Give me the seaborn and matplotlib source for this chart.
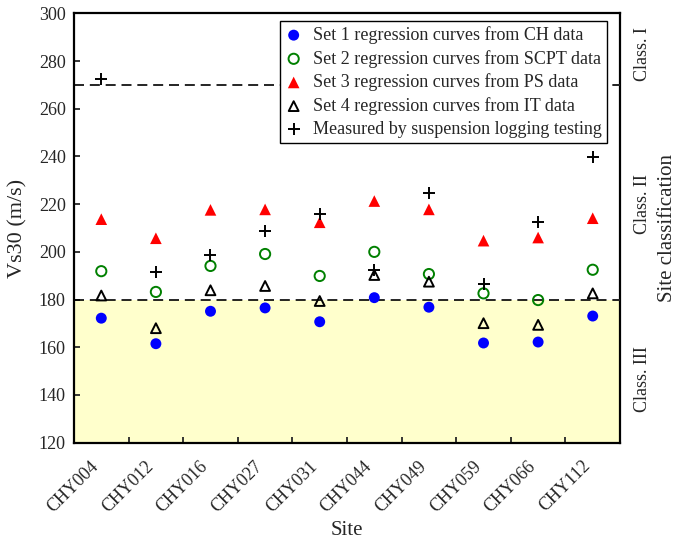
import matplotlib
matplotlib.use("Agg")
import matplotlib.pyplot as plt
import matplotlib.transforms as mtransforms
import numpy as np
import pandas as pd
import seaborn as sns

sites = ["CHY004", "CHY012", "CHY016", "CHY027", "CHY031",
         "CHY044", "CHY049", "CHY059", "CHY066", "CHY112"]
set1_ch = [172.2, 161.5, 175.1, 176.5, 170.7, 180.8, 176.8, 161.8, 162.2, 173.1]
set2_scpt = [191.9, 183.2, 194.1, 199.1, 189.9, 200.0, 190.7, 182.6, 179.8, 192.5]
set3_ps = [213.7, 205.7, 217.6, 217.8, 212.4, 221.3, 217.8, 204.7, 206.0, 214.1]
set4_it = [181.7, 168.0, 183.9, 185.7, 179.4, 190.3, 187.5, 170.1, 169.4, 182.6]
measured = [272.5, 191.6, 198.6, 208.8, 215.8, 192.4, 224.8, 186.7, 212.7, 239.6]

class_bounds = [180, 270]
class_names = ["Class. III", "Class. II", "Class. I"]
class_label_y = [146.5, 220, 283]

sns.set_style("ticks")
plt.rcParams["font.family"] = ["Liberation Serif", "DejaVu Serif"]

df = pd.DataFrame({
    "pos": np.arange(len(sites)),
    "site": sites,
    "s1": set1_ch, "s2": set2_scpt, "s3": set3_ps, "s4": set4_it, "m": measured,
})

fig = plt.figure(figsize=(6.8, 5.43), dpi=100)
ax = fig.add_axes([0.1088, 0.1847, 0.803, 0.7908])

ax.axhspan(120, class_bounds[0], color="#FFFFCC", zorder=0, lw=0)
for b in class_bounds:
    ax.axhline(b, color="black", lw=1.2, dashes=(6, 3.5), zorder=1)

ms = 62
sns.scatterplot(data=df, x="pos", y="s1", ax=ax, marker="o", s=ms,
                color="#0000FF", edgecolor="none", linewidth=0,
                label="Set 1 regression curves from CH data", zorder=3)
sns.scatterplot(data=df, x="pos", y="s2", ax=ax, marker="o", s=ms - 8,
                facecolor="none", edgecolor="#008000", linewidth=1.4,
                label="Set 2 regression curves from SCPT data", zorder=3)
sns.scatterplot(data=df, x="pos", y="s3", ax=ax, marker="^", s=ms + 8,
                color="#FF0000", edgecolor="none", linewidth=0,
                label="Set 3 regression curves from PS data", zorder=3)
sns.scatterplot(data=df, x="pos", y="s4", ax=ax, marker="^", s=ms - 12,
                facecolor="none", edgecolor="black", linewidth=1.4,
                label="Set 4 regression curves from IT data", zorder=3)
sns.scatterplot(data=df, x="pos", y="m", ax=ax, marker="+", s=ms + 18,
                color="black", linewidth=1.4,
                label="Measured by suspension logging testing", zorder=3)

ax.set_xlim(-0.5, len(sites) - 0.5)
ax.set_ylim(120, 300)
ax.set_yticks(np.arange(120, 301, 20))
ax.set_xticks(df["pos"])
ax.set_xticklabels(sites, rotation=45, ha="right", va="center",
                   rotation_mode="anchor", fontsize=13)
ax.set_xticks(np.arange(0.5, len(sites) - 0.5, 1), minor=True)
ax.tick_params(axis="x", which="major", length=0, pad=15)
ax.tick_params(axis="x", which="minor", direction="in", length=4, width=1.3)
ax.tick_params(axis="y", direction="in", length=4, width=1.3, labelsize=13, pad=6)
shift = mtransforms.ScaledTranslation(-5 / 100, 0, fig.dpi_scale_trans)
for lbl in ax.get_xticklabels():
    lbl.set_transform(lbl.get_transform() + shift)

for side in ["left", "right", "top", "bottom"]:
    ax.spines[side].set_linewidth(1.6)
    ax.spines[side].set_color("black")

ax.set_xlabel("Site", fontsize=15, labelpad=4)
ax.set_ylabel("Vs30 (m/s)", fontsize=16, labelpad=8)

leg = ax.legend(loc="upper right", bbox_to_anchor=(0.976, 0.983),
                borderaxespad=0, frameon=True, fancybox=False,
                edgecolor="black", framealpha=1, fontsize=13,
                handlelength=0.9, handletextpad=0.6, borderpad=0.3,
                labelspacing=0.32)
leg.get_frame().set_linewidth(1.0)

ax2 = ax.twinx()
ax2.set_ylim(120, 300)
ax2.set_yticks(class_bounds)
ax2.set_yticklabels([])
ax2.tick_params(axis="y", direction="in", length=5, width=1.2)
for side in ["left", "right", "top", "bottom"]:
    ax2.spines[side].set_visible(False)
ax2.set_ylabel("Site classification", fontsize=15, labelpad=24)

trans = mtransforms.blended_transform_factory(ax.transAxes, ax.transData)
for name, yv in zip(class_names, class_label_y):
    ax.text(1.042, yv, name, transform=trans, rotation=90,
            ha="center", va="center", fontsize=13)

fig.savefig("out.png", dpi=100)
